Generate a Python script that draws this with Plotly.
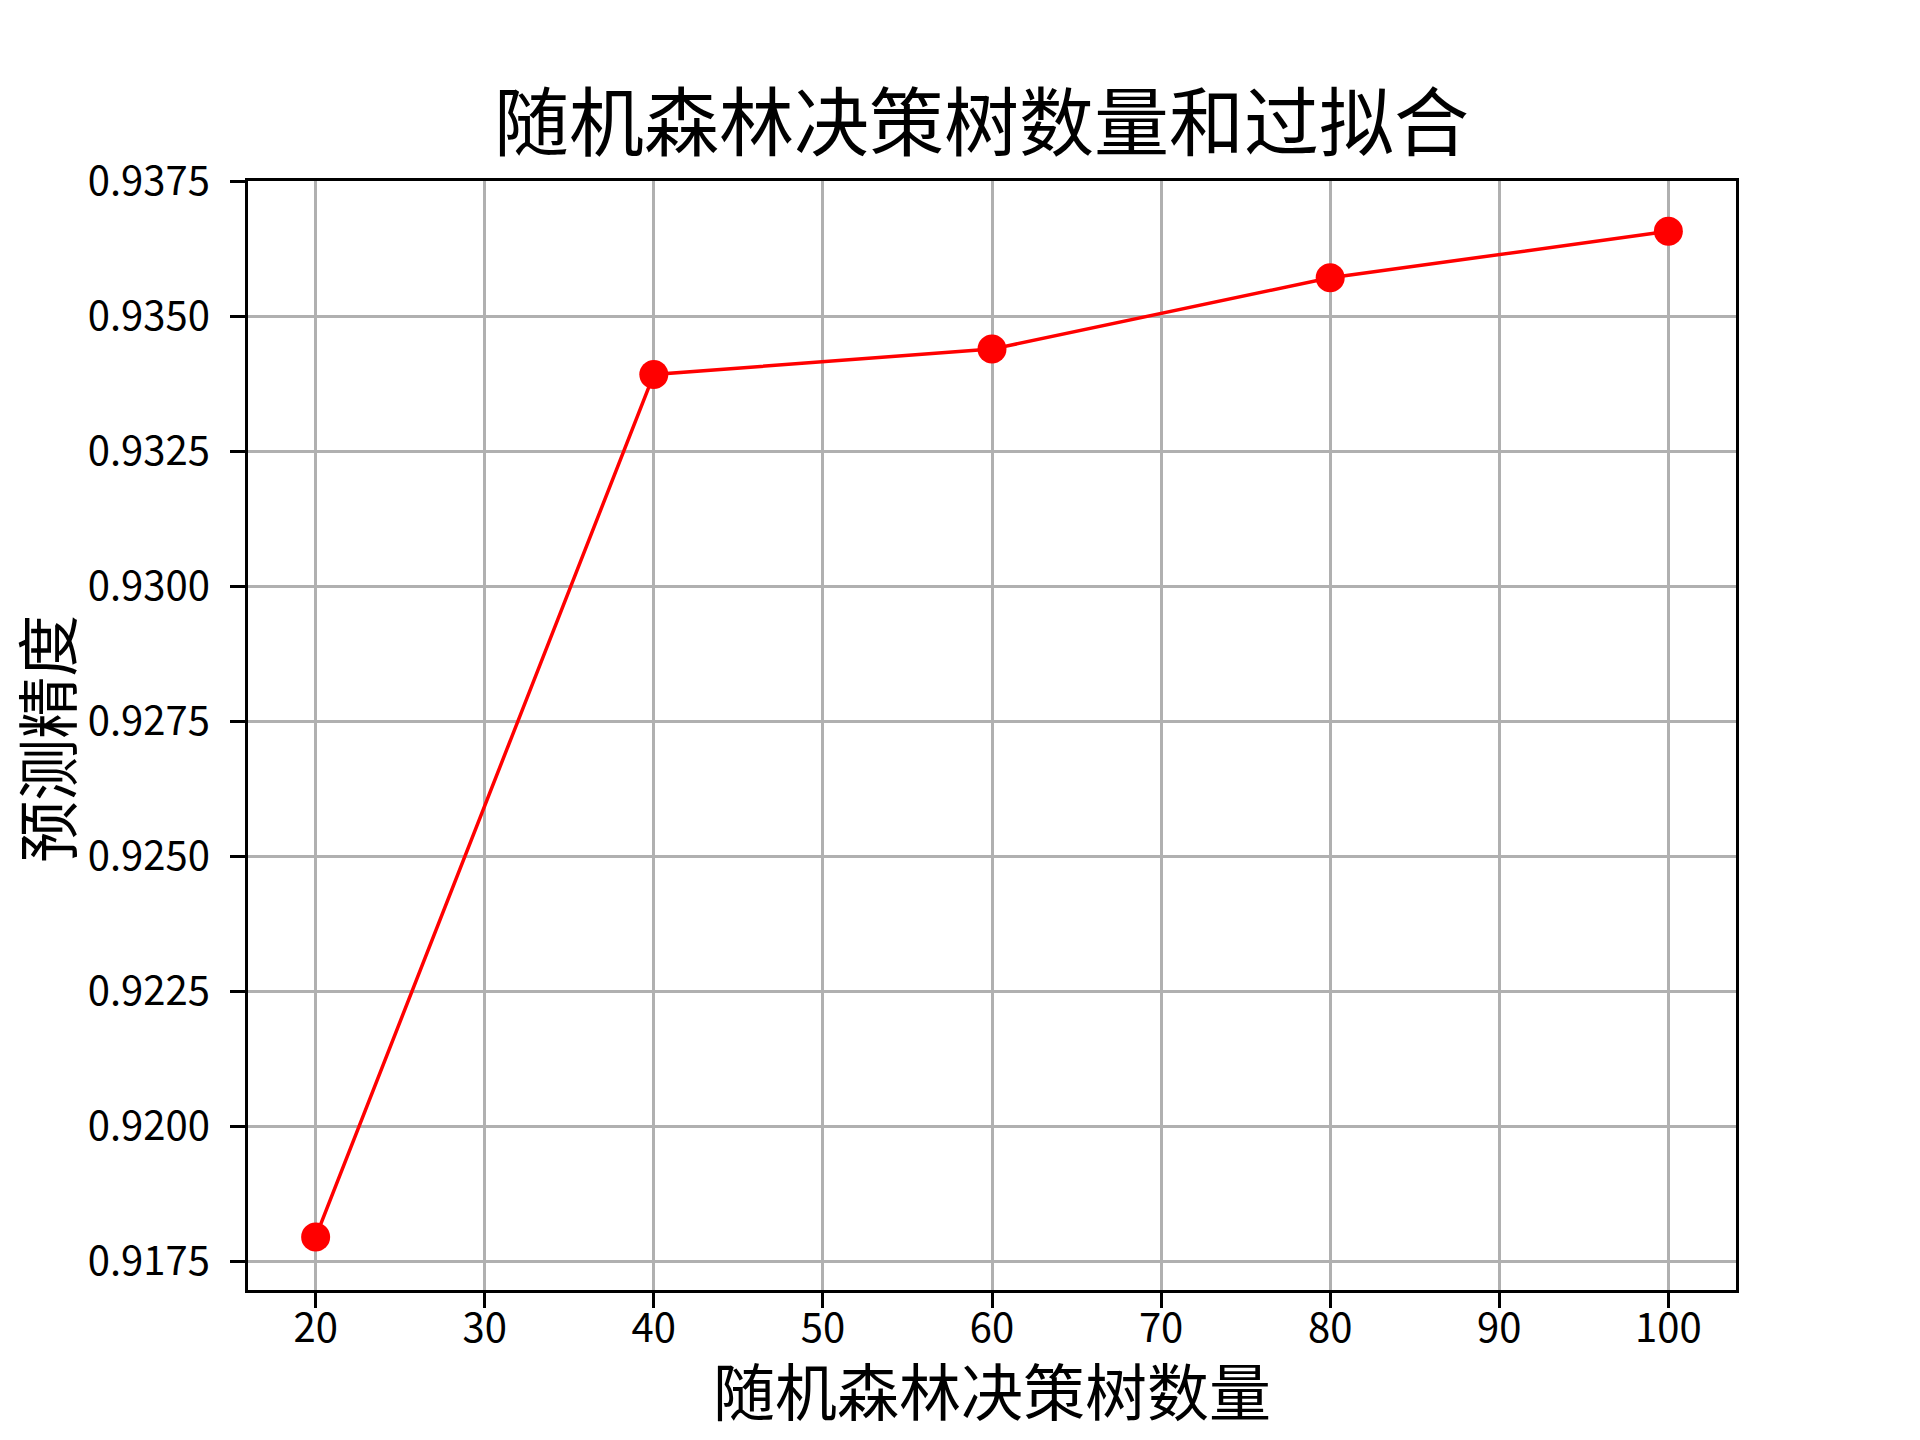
import plotly.graph_objects as go

# 随机森林决策树数量 vs 预测精度
n_trees = [20, 40, 60, 80, 100]
accuracy = [0.91795, 0.93392, 0.93439, 0.93571, 0.93657]

x_ticks = [20, 30, 40, 50, 60, 70, 80, 90, 100]
y_ticks = [0.9175, 0.9200, 0.9225, 0.9250, 0.9275, 0.9300, 0.9325, 0.9350, 0.9375]

FONT = "Noto Sans CJK SC"

fig = go.Figure()
fig.add_trace(go.Scatter(
    x=n_trees, y=accuracy,
    mode="lines+markers",
    line=dict(color="#ff0000", width=3.5),
    marker=dict(color="#ff0000", size=29),
    showlegend=False,
))

axis_common = dict(
    showline=True, linecolor="black", linewidth=3.3, mirror=True,
    ticks="outside", ticklen=15, tickwidth=3.3, tickcolor="black",
    showgrid=True, gridcolor="#b0b0b0", gridwidth=3,
    zeroline=False, automargin=False,
    tickfont=dict(family=FONT, size=40, color="black"),
)

fig.update_xaxes(range=[16, 104], tickvals=x_ticks, ticklabelstandoff=-14, **axis_common)
fig.update_yaxes(range=[0.91697, 0.937502], tickvals=y_ticks, tickformat=".4f",
                 ticklabelstandoff=12, **axis_common)

# axis titles placed like matplotlib's xlabel / ylabel
fig.add_annotation(text="随机森林决策树数量", xref="paper", yref="paper",
                   x=0.5, y=-0.0895, xanchor="center", yanchor="middle",
                   showarrow=False, font=dict(family=FONT, size=62, color="black"))
fig.add_annotation(text="预测精度", xref="paper", yref="paper",
                   x=-0.1365, y=0.497, xanchor="center", yanchor="middle", textangle=-90,
                   showarrow=False, font=dict(family=FONT, size=62, color="black"))

fig.update_layout(
    width=1920, height=1440,
    margin=dict(l=240, r=192, t=173, b=158),
    paper_bgcolor="white", plot_bgcolor="white",
    font=dict(family=FONT, color="black"),
    title=dict(text="随机森林决策树数量和过拟合",
               font=dict(family=FONT, size=75, color="black"),
               x=0.507, xanchor="center", xref="container",
               y=1 - 116 / 1440, yanchor="middle", yref="container"),
)

fig.write_html("out.html")
